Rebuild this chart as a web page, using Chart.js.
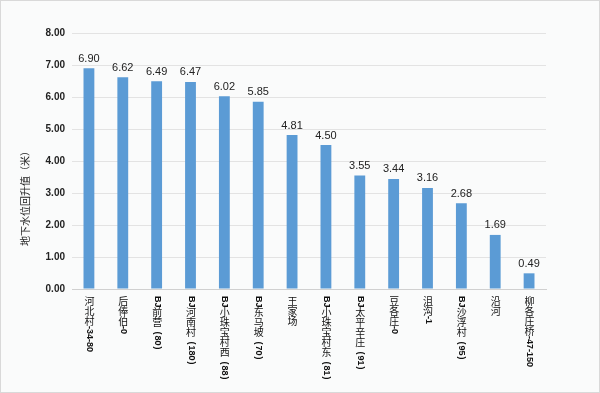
<!DOCTYPE html>
<html><head><meta charset="utf-8">
<script src="https://cdn.jsdelivr.net/npm/chart.js@4.4.1/dist/chart.umd.min.js"></script>
<style>
html,body{margin:0;padding:0;background:#fafbfb;}
#wrap{width:598px;height:391px;border:1px solid #d9d9d9;background:#fafbfb;}
</style></head>
<body><div id="wrap"><canvas id="c" width="598" height="391"></canvas></div>
<script>
const categories = ["河北村-34-80","后俸伯-0","BJ前营（80）","BJ河南村（180）","BJ小珠宝村西（88）","BJ东马坡（70）","王家场","BJ小珠宝村东（81）","BJ太平辛庄（91）","豆各庄-0","沮沟-1","BJ沙浮村（95）","沿河","柳各庄桥-47-150"];
const values = [6.90,6.62,6.49,6.47,6.02,5.85,4.81,4.50,3.55,3.44,3.16,2.68,1.69,0.49];
const yTicks = [0,1,2,3,4,5,6,7,8];
const yTitle = "地下水位回升值（米）";

const isCJK = ch => /[\u3000-\u9fff]/.test(ch);

const labelPlugin = {
  id: 'labels',
  afterDatasetsDraw(chart) {
    const ctx = chart.ctx;
    const meta = chart.getDatasetMeta(0);
    const xs = chart.scales.x, ys = chart.scales.y;
    ctx.save();
    // value labels
    ctx.fillStyle = '#222';
    ctx.font = '11px "Liberation Sans", Arial, sans-serif';
    ctx.textAlign = 'center';
    ctx.textBaseline = 'bottom';
    meta.data.forEach((bar, i) => {
      ctx.fillText(values[i].toFixed(2), bar.x, bar.y - 4);
    });
    // y title
    ctx.save();
    ctx.translate(24, 195);
    ctx.rotate(-Math.PI / 2);
    ctx.font = '10px "Noto Sans CJK SC", sans-serif';
    ctx.textAlign = 'center';
    ctx.textBaseline = 'middle';
    ctx.fillStyle = '#222';
    ctx.fillText(yTitle, 0, 0);
    ctx.restore();
    // vertical category labels
    const step = 10;
    categories.forEach((lab, i) => {
      const x = xs.getPixelForValue(i) + 0.5;
      let y = ys.bottom + 7;
      for (let ch of lab) {
        if (isCJK(ch)) {
          ctx.font = '10px "Noto Sans CJK SC", sans-serif';
          ctx.textAlign = 'center';
          ctx.textBaseline = 'middle';
          ctx.fillStyle = '#111';
          ctx.fillText(ch, x, y + step / 2);
          y += step;
        } else {
          let extra = 0;
          if (ch === '（') { ch = '('; y += 4; extra = 1; }
          else if (ch === '）') { ch = ')'; y += 1; extra = 2; }
          ctx.font = 'bold 9px "Liberation Sans", Arial, sans-serif';
          const w = ctx.measureText(ch).width;
          ctx.save();
          ctx.translate(x, y);
          ctx.rotate(Math.PI / 2);
          ctx.textAlign = 'left';
          ctx.textBaseline = 'middle';
          ctx.fillStyle = '#111';
          ctx.fillText(ch, 0, 0);
          ctx.restore();
          y += w + extra;
        }
      }
    });
    ctx.restore();
  }
};

new Chart(document.getElementById('c'), {
  type: 'bar',
  data: {
    labels: categories,
    datasets: [{
      data: values,
      backgroundColor: '#5b9bd5',
      borderWidth: 0,
      categoryPercentage: 1.0,
      barPercentage: 0.32
    }]
  },
  options: {
    responsive: false,
    animation: false,
    layout: { padding: { left: 0, right: 53, top: 32, bottom: 103 } },
    plugins: { legend: { display: false }, tooltip: { enabled: false } },
    scales: {
      x: {
        grid: { display: false, drawTicks: false },
        border: { color: '#d0d0d0' },
        ticks: { display: false }
      },
      y: {
        min: 0, max: 8,
        afterBuildTicks: s => { s.ticks = yTicks.map(v => ({ value: v })); },
        afterFit: s => { s.width = 71; },
        grid: { color: '#e3e3e3', drawTicks: false },
        border: { display: false },
        ticks: {
          padding: 7,
          color: '#222',
          font: { size: 10, weight: 'bold', family: '"Liberation Sans", Arial, sans-serif' },
          callback: v => Number(v).toFixed(2)
        },
        title: { display: false }
      }
    }
  },
  plugins: [labelPlugin]
});
</script></body></html>
